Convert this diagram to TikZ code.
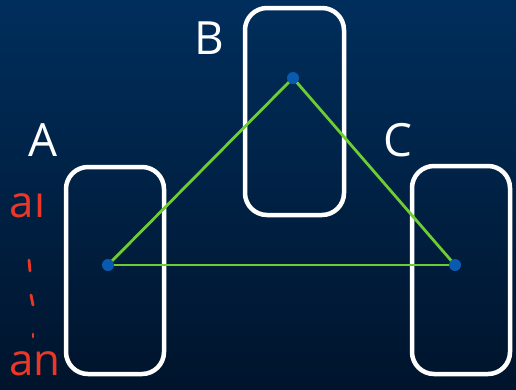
\documentclass[tikz,border=0pt]{standalone}
\usepackage{fontspec}
\setmainfont{Open Sans}
\begin{document}
\begin{tikzpicture}[x=1bp,y=-1bp]
\definecolor{bgtop}{RGB}{0,46,92}
\definecolor{bgbot}{RGB}{0,20,44}
\definecolor{edgegreen}{RGB}{110,205,50}
\definecolor{dotblue}{RGB}{10,90,175}
\definecolor{handred}{RGB}{235,55,40}
\tikzset{
  setbox/.style={draw=white, line width=4.5bp, rounded corners=22bp},
  vertex/.style={circle, fill=dotblue, inner sep=0pt, minimum size=12bp},
  edge/.style={draw=edgegreen, line width=2.8bp},
  setlabel/.style={text=white, font=\fontsize{46}{50}\selectfont, inner sep=0pt},
  elemlabel/.style={text=handred, font=\fontsize{44}{48}\selectfont, inner sep=0pt},
  tick/.style={draw=handred, line width=2.8bp, line cap=round}
}
\shade[top color=bgtop, bottom color=bgbot] (0,0) rectangle (516,389);
\useasboundingbox (0,0) rectangle (516,389);
% sets
\draw[setbox] (66,167) rectangle (164,374);
\draw[setbox] (245,8) rectangle (344,215);
\draw[setbox] (412,166) rectangle (510,374);
% labels
\node[setlabel] (la) at (43,140) {A};
\node[setlabel] (lb) at (209,38) {B};
\node[setlabel] (lc) at (398,140) {C};
% vertices
\coordinate (ca) at (108,265);
\coordinate (cb) at (293,78);
\coordinate (cc) at (455,265);
% edges
\draw[edge] (ca) -- (cb);
\draw[edge] (cb) -- (cc);
\draw[edge] (ca) -- (cc);
\node[vertex] (va) at (ca) {};
\node[vertex] (vb) at (cb) {};
\node[vertex] (vc) at (cc) {};
% elements
\node[elemlabel, anchor=base west] (a1) at (9,217) {a\kern1bp ı};
\node[elemlabel, anchor=base west] (an) at (9,375) {an};
\draw[tick] (29,260) -- (30,271);
\draw[tick] (31,295) -- (33,305);
\draw[tick] (33,334) -- (33,337);
\end{tikzpicture}
\end{document}
